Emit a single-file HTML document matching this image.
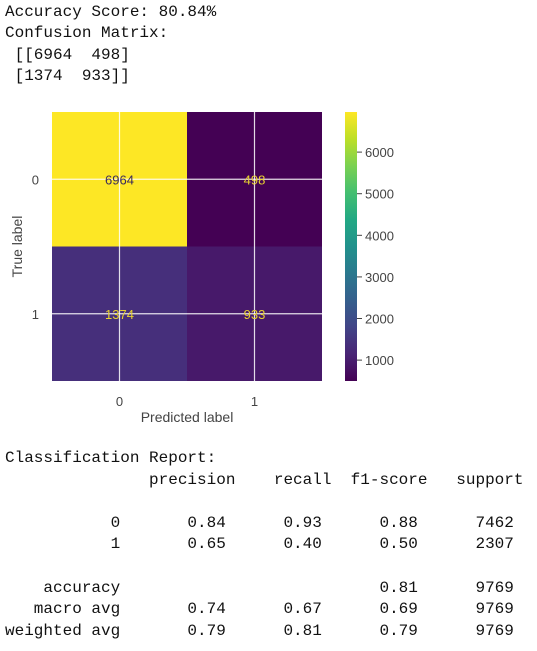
<!DOCTYPE html>
<html><head><meta charset="utf-8"><style>
body{margin:0;background:#fff;width:537px;height:651px;overflow:hidden;position:relative}
pre{margin:0;position:absolute;left:5px;font-family:"Liberation Mono",monospace;font-size:16px;line-height:21.4px;color:#111}
svg{position:absolute;left:0;top:0}
</style></head><body>
<pre style="top:2px">Accuracy Score: 80.84%
Confusion Matrix:
 [[6964  498]
 [1374  933]]</pre>
<svg id="chart" width="537" height="440" font-family="Liberation Sans, sans-serif"></svg>
<pre style="top:448px;line-height:21.6px">Classification Report:
               precision    recall  f1-score   support

           0       0.84      0.93      0.88      7462
           1       0.65      0.40      0.50      2307

    accuracy                           0.81      9769
   macro avg       0.74      0.67      0.69      9769
weighted avg       0.79      0.81      0.79      9769</pre>
<script>
const classes=["0","1"];
const matrix=[[6964,498],[1374,933]];
const cbTicks=[1000,2000,3000,4000,5000,6000];
const NS="http://www.w3.org/2000/svg";
const svg=document.getElementById('chart');
function mk(t,a,txt){const e=document.createElementNS(NS,t);for(const k in a)e.setAttribute(k,a[k]);if(txt!==undefined)e.textContent=txt;svg.appendChild(e);return e;}
const X0=52,Y0=112,W=270,H=269;
const vals=matrix.flat();const vmin=Math.min(...vals),vmax=Math.max(...vals);
const stops=[[0,[68,1,84]],[0.1,[72,36,117]],[0.2,[65,68,135]],[0.3,[53,95,141]],[0.4,[42,120,142]],[0.5,[33,145,140]],[0.6,[34,168,132]],[0.7,[68,191,112]],[0.8,[122,209,81]],[0.9,[189,223,38]],[1,[253,231,37]]];
function viridis(t){t=Math.max(0,Math.min(1,t));for(let i=1;i<stops.length;i++){if(t<=stops[i][0]){const a=stops[i-1],b=stops[i];const f=(t-a[0])/(b[0]-a[0]);return 'rgb('+a[1].map((v,j)=>Math.round(v+(b[1][j]-v)*f)).join(',')+')';}}return 'rgb(253,231,37)';}
const n=classes.length,cw=W/n,ch=H/n;
const xc=i=>X0+cw*(i+0.5), yc=i=>Y0+ch*(i+0.5);
for(let r=0;r<n;r++)for(let c=0;c<n;c++){
 const t=(matrix[r][c]-vmin)/(vmax-vmin);
 const el=mk('rect',{x:X0+c*cw,y:Y0+r*ch,width:cw,height:ch,fill:viridis(t)});
 
 
}
for(let i=0;i<n;i++){
 const g1=mk('line',{x1:xc(i),x2:xc(i),y1:Y0,y2:Y0+H,stroke:'#fff','stroke-width':1.2,opacity:0.85});
 
 
 const g2=mk('line',{x1:X0,x2:X0+W,y1:yc(i),y2:yc(i),stroke:'#fff','stroke-width':1.2,opacity:0.85});
 
 
}
for(let r=0;r<n;r++)for(let c=0;c<n;c++){
 const t=(matrix[r][c]-vmin)/(vmax-vmin);
 const el=mk('text',{x:xc(c),y:yc(r)+5,'text-anchor':'middle','font-size':13,fill:t>0.5?'#3b2a5a':'#e8d230'},matrix[r][c]);
 
 
}
for(let i=0;i<n;i++){
 const a=mk('text',{x:xc(i),y:406,'text-anchor':'middle','font-size':13,fill:'#444'},classes[i]);
 
 
 const b=mk('text',{x:39,y:yc(i)+5,'text-anchor':'end','font-size':13,fill:'#444'},classes[i]);
 
 
}
const xl=mk('text',{x:X0+W/2,y:422,'text-anchor':'middle','font-size':14,fill:'#444'},'Predicted label');


const yl=mk('text',{x:0,y:0,'text-anchor':'middle','font-size':14,fill:'#444',transform:'translate(22,'+(Y0+H/2)+') rotate(-90)'},'True label');


const CX=345,CW=12;
const defs=document.createElementNS(NS,'defs');svg.appendChild(defs);
const lg=document.createElementNS(NS,'linearGradient');lg.setAttribute('id','vg');lg.setAttribute('x1','0');lg.setAttribute('y1','1');lg.setAttribute('x2','0');lg.setAttribute('y2','0');defs.appendChild(lg);
for(let i=0;i<=20;i++){const s=document.createElementNS(NS,'stop');s.setAttribute('offset',i/20);s.setAttribute('stop-color',viridis(i/20));lg.appendChild(s);}
const cb=mk('rect',{x:CX,y:Y0,width:CW,height:H,fill:'url(#vg)'});


const cy=v=>Y0+H-(v-vmin)/(vmax-vmin)*H;
cbTicks.forEach(v=>{
 const l=mk('line',{x1:CX+CW,x2:CX+CW+5,y1:cy(v),y2:cy(v),stroke:'#444','stroke-width':1});
 
 
 const t=mk('text',{x:CX+CW+8,y:cy(v)+5,'font-size':13,fill:'#444'},v);
 
 
});
</script>
</body></html>
